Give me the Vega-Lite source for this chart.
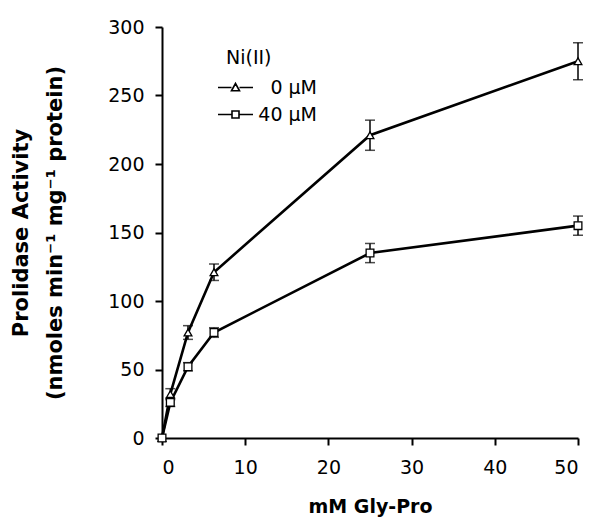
{
  "$schema": "https://vega.github.io/schema/vega-lite/v6.json",
  "width": 416,
  "height": 411,
  "autosize": "none",
  "padding": {"left": 162, "top": 27, "right": 16, "bottom": 83},
  "background": "white",
  "data": {
    "values": [
      {"conc": 0, "activity": 0, "err": 0, "nickel": "0 µM"},
      {"conc": 1, "activity": 32, "err": 4, "nickel": "0 µM"},
      {"conc": 3.125, "activity": 77, "err": 5, "nickel": "0 µM"},
      {"conc": 6.25, "activity": 121, "err": 6, "nickel": "0 µM"},
      {"conc": 25, "activity": 221, "err": 11, "nickel": "0 µM"},
      {"conc": 50, "activity": 275, "err": 13.5, "nickel": "0 µM"},
      {"conc": 0, "activity": 0, "err": 0, "nickel": "40 µM"},
      {"conc": 1, "activity": 26, "err": 3, "nickel": "40 µM"},
      {"conc": 3.125, "activity": 52, "err": 3, "nickel": "40 µM"},
      {"conc": 6.25, "activity": 77, "err": 3.5, "nickel": "40 µM"},
      {"conc": 25, "activity": 135, "err": 7, "nickel": "40 µM"},
      {"conc": 50, "activity": 155, "err": 7, "nickel": "40 µM"}
    ]
  },
  "encoding": {
    "x": {
      "field": "conc",
      "type": "quantitative",
      "scale": {"domain": [0, 50], "nice": false},
      "axis": {"values": [0, 10, 20, 30, 40, 50], "title": "mM Gly-Pro", "labelPadding": 13, "titlePadding": 20, "titleFontSize": 19}
    },
    "y": {
      "field": "activity",
      "type": "quantitative",
      "scale": {"domain": [0, 300], "nice": false},
      "title": ["Prolidase Activity", "(nmoles min⁻¹ mg⁻¹ protein)"],
      "axis": {
        "values": [0, 50, 100, 150, 200, 250, 300],
        "titleFontSize": 21,
        "titleLineHeight": 34,
        "labelPadding": 11,
        "titlePadding": 42
      }
    }
  },
  "layer": [
    {
      "mark": {"type": "line", "color": "black", "strokeWidth": 2.6},
      "encoding": {
        "detail": {"field": "nickel"}
      }
    },
    {
      "transform": [{"filter": "datum.err > 0"}],
      "mark": {"type": "errorbar", "ticks": {"size": 10}, "thickness": 1.5, "color": "black"},
      "encoding": {
        "yError": {"field": "err"}
      }
    },
    {
      "mark": {"type": "point", "filled": true, "fill": "white", "stroke": "black", "strokeWidth": 1.3, "size": 60, "opacity": 1},
      "encoding": {
        "shape": {
          "field": "nickel",
          "type": "nominal",
          "scale": {"domain": ["0 µM", "40 µM"], "range": ["triangle-up", "square"]},
          "legend": null
        }
      }
    },
    {
      "transform": [{"filter": "datum.conc < 0"}],
      "mark": {"type": "point", "filled": false, "color": "black", "strokeWidth": 1.6, "size": 100, "opacity": 1},
      "encoding": {
        "shape": {
          "field": "nickel",
          "type": "nominal",
          "scale": {
            "domain": ["0 µM", "40 µM"],
            "range": [
              "M-3.5,0H-0.8M0.8,0H3.5M-0.8,0.65L0,-0.8L0.8,0.65Z",
              "M-3.5,0H-0.7M0.7,0H3.5M-0.7,-0.7H0.7V0.7H-0.7Z"
            ]
          },
          "legend": {
            "title": "Ni(II)",
            "orient": "none",
            "legendX": 64,
            "legendY": 22,
            "titleFont": "DejaVu Sans",
            "titleFontWeight": "normal",
            "titleFontSize": 19,
            "titleColor": "black",
            "titlePadding": 10,
            "labelFont": "DejaVu Sans",
            "labelFontSize": 19,
            "labelColor": "black",
            "labelAlign": "right",
            "labelOffset": 72,
            "rowPadding": 7,
            "symbolSize": 100,
            "symbolOpacity": 1,
            "symbolStrokeWidth": 1.6,
            "symbolStrokeColor": "black"
          }
        }
      }
    }
  ],
  "resolve": {"scale": {"shape": "independent"}},
  "config": {
    "view": {"stroke": null},
    "axis": {
      "grid": false,
      "domainColor": "black",
      "domainWidth": 2,
      "tickColor": "black",
      "tickWidth": 2,
      "tickSize": 7,
      "labelFont": "DejaVu Sans",
      "labelFontSize": 19,
      "labelColor": "black",
      "titleFont": "DejaVu Sans",
      "titleFontWeight": "bold",
      "titleColor": "black"
    }
  }
}
